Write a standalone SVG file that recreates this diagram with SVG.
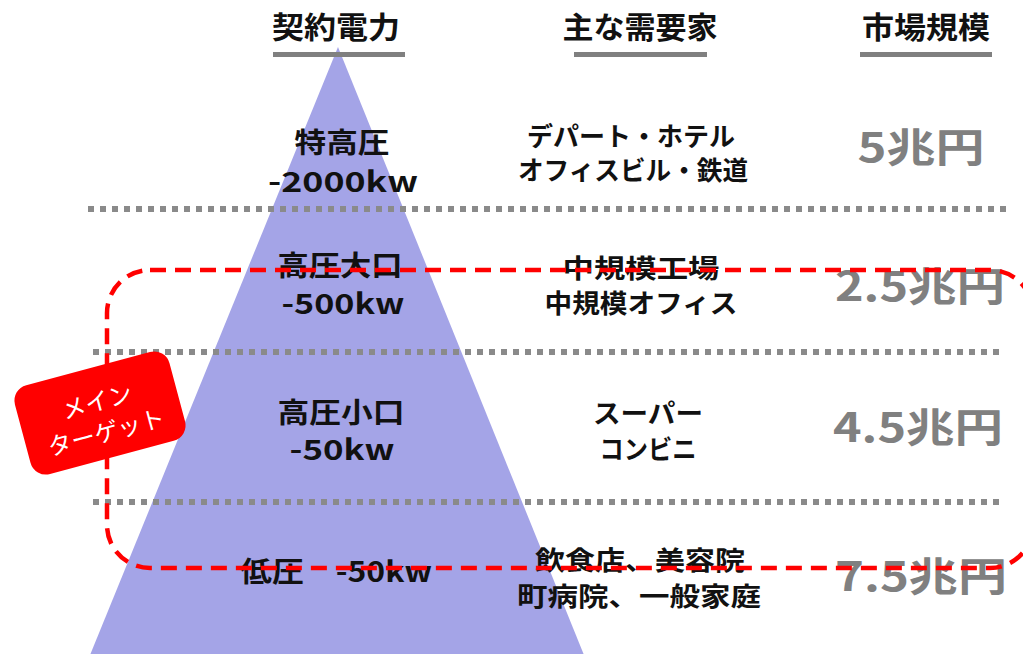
<svg xmlns="http://www.w3.org/2000/svg" width="1023" height="654" viewBox="0 0 1023 654">
<style>
text{font-family:"Noto Sans CJK JP","Noto Sans",sans-serif;text-anchor:middle}
.h{font-size:30px;font-weight:bold;fill:#111}
.l{font-size:28px;font-weight:bold;fill:#111}
.m{font-size:26px;font-weight:bold;fill:#111}
.r{font-size:40px;font-weight:bold;fill:#808080}
.w{font-size:24px;fill:#fff}
.dot{stroke:#8a8a8a;stroke-width:6;stroke-dasharray:6 6;fill:none}
.bar{fill:#808080}
</style>
<rect width="1023" height="654" fill="#fff"/>
<g id="pyramid"><polygon points="338,47 88,660 586,660" fill="#A4A4E7"/></g>
<g id="headers">
<rect class="bar" x="273" y="52" width="132" height="5"/>
<rect class="bar" x="574" y="52" width="133" height="5"/>
<rect class="bar" x="860" y="52" width="132" height="5"/>
<text class="h" x="336" y="38" textLength="128" lengthAdjust="spacingAndGlyphs">契約電力</text>
<text class="h" x="640" y="38" textLength="155" lengthAdjust="spacingAndGlyphs">主な需要家</text>
<text class="h" x="926" y="38" textLength="128" lengthAdjust="spacingAndGlyphs">市場規模</text>
</g>
<g id="separators">
<line class="dot" x1="88" y1="209" x2="1006" y2="209"/>
<line class="dot" x1="93" y1="352" x2="1003" y2="352"/>
<line class="dot" x1="93" y1="502" x2="1003" y2="502"/>
</g>
<g id="row1">
<text class="l" x="342" y="153" textLength="95" lengthAdjust="spacingAndGlyphs">特高圧</text>
<text class="l" x="343" y="192" textLength="150" lengthAdjust="spacingAndGlyphs">-2000kw</text>
<text class="m" x="631" y="146" textLength="208" lengthAdjust="spacingAndGlyphs">デパート・ホテル</text>
<text class="m" x="633" y="180" textLength="230" lengthAdjust="spacingAndGlyphs">オフィスビル・鉄道</text>
<text class="r" x="921" y="162" textLength="127" lengthAdjust="spacingAndGlyphs">5兆円</text>
</g>
<g id="row2">
<text class="l" x="340" y="276" textLength="125" lengthAdjust="spacingAndGlyphs">高圧大口</text>
<text class="l" x="343" y="314" textLength="123" lengthAdjust="spacingAndGlyphs">-500kw</text>
<text class="m" x="641" y="278" textLength="157" lengthAdjust="spacingAndGlyphs">中規模工場</text>
<text class="m" x="641" y="313" textLength="193" lengthAdjust="spacingAndGlyphs">中規模オフィス</text>
<text class="r" x="920" y="301" textLength="170" lengthAdjust="spacingAndGlyphs">2.5兆円</text>
</g>
<g id="row3">
<text class="l" x="341" y="423" textLength="127" lengthAdjust="spacingAndGlyphs">高圧小口</text>
<text class="l" x="342" y="460" textLength="105" lengthAdjust="spacingAndGlyphs">-50kw</text>
<text class="m" x="648" y="423" textLength="110" lengthAdjust="spacingAndGlyphs">スーパー</text>
<text class="m" x="648" y="459" textLength="97" lengthAdjust="spacingAndGlyphs">コンビニ</text>
<text class="r" x="918" y="442" textLength="170" lengthAdjust="spacingAndGlyphs">4.5兆円</text>
</g>
<g id="row4">
<text class="l" x="336" y="582" textLength="192" lengthAdjust="spacingAndGlyphs">低圧　-50kw</text>
<text class="m" x="640" y="570" textLength="210" lengthAdjust="spacingAndGlyphs">飲食店、美容院</text>
<text class="m" x="639" y="606" textLength="244" lengthAdjust="spacingAndGlyphs">町病院、一般家庭</text>
<text class="r" x="921" y="591" textLength="172" lengthAdjust="spacingAndGlyphs">7.5兆円</text>
</g>
<g id="connectors">
<rect id="target-zone" x="107" y="270" width="926" height="298" rx="43" ry="43" fill="none" stroke="#FF0000" stroke-width="4.5" stroke-dasharray="16 9"/>
</g>
<g id="main-target" transform="translate(100,413) rotate(-15)">
<rect x="-80" y="-46" width="160" height="92" rx="16" ry="16" fill="#FF0000"/>
<text class="w" x="0" y="-3">メイン</text>
<text class="w" x="1" y="29">ターゲット</text>
</g>
</svg>
